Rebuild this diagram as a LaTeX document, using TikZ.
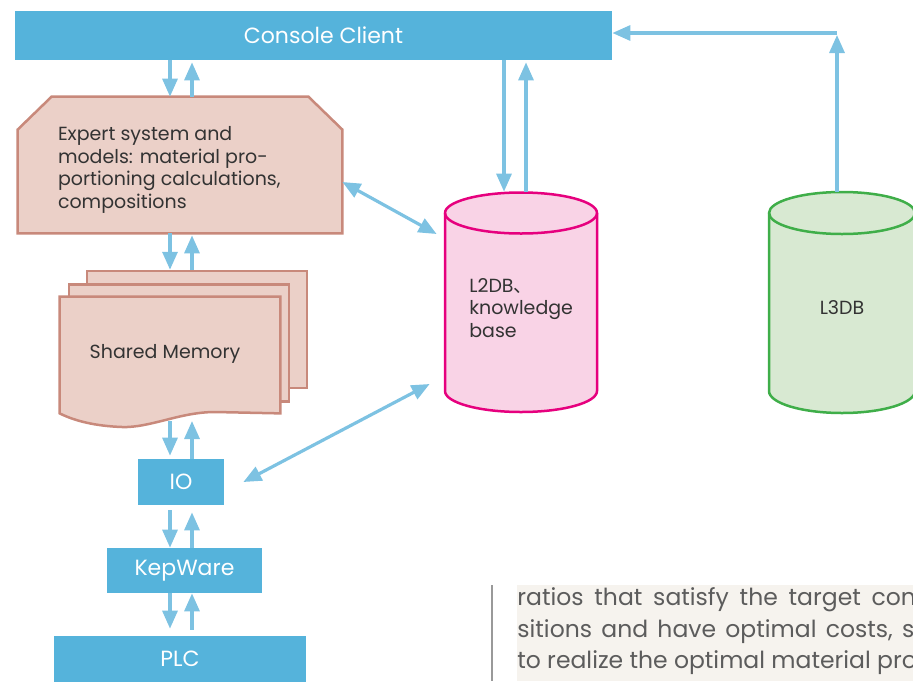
\documentclass[tikz,border=0pt]{standalone}
\usepackage{fontspec}
\setmainfont{Poppins}
\newfontfamily\cjk{Noto Sans CJK SC}
\usetikzlibrary{arrows.meta,positioning,calc}
\definecolor{boxblue}{HTML}{55B3DB}
\definecolor{arrowblue}{HTML}{7DC2E2}
\definecolor{salmonfill}{HTML}{EBD0C8}
\definecolor{salmonline}{HTML}{C8897B}
\definecolor{pinkfill}{HTML}{F9D3E6}
\definecolor{pinkline}{HTML}{E6007E}
\definecolor{greenfill}{HTML}{D8E9D2}
\definecolor{greenline}{HTML}{3FAE49}
\definecolor{darktext}{HTML}{333333}
\definecolor{graytext}{HTML}{5C5C5C}
\definecolor{quotebg}{HTML}{F6F3EE}
\tikzset{every picture/.style={line width=0.75pt}}
\tikzset{
  blockbox/.style={fill=boxblue, text=white, inner sep=0pt, font=\fontsize{22}{26}\selectfont},
  boxtext/.style={text=darktext, inner sep=0pt, font=\fontsize{19}{22.7}\selectfont},
  docline/.style={fill=salmonfill, draw=salmonline, line width=2.5pt},
  docpage/.style={docline, inner sep=0pt, minimum width=220pt, minimum height=117pt},
  hidden/.style={inner sep=0pt},
  flow/.style={draw=arrowblue, line width=3.2pt, -{Triangle[length=18pt,width=15pt]}},
  dflow/.style={flow, {Triangle[length=18pt,width=15pt]}-{Triangle[length=18pt,width=15pt]}},
  quotetext/.style={text=graytext, inner sep=0pt, anchor=base west, font=\fontsize{23.5}{32}\selectfont}
}

\begin{document}
\begin{tikzpicture}[x=1pt,y=-1pt]
    \useasboundingbox (0,0) rectangle (913,681);
    \clip (0,0) rectangle (913,681);

    % Blue blocks
    \node[blockbox, minimum width=597pt, minimum height=49pt] (console) at (313.5,35.5) {\hspace{20pt}Console Client};
    \node[blockbox, minimum width=86pt, minimum height=46pt] (io) at (181,482) {IO};
    \node[blockbox, minimum width=155pt, minimum height=45pt] (kep) at (184.5,570.5) {KepWare};
    \node[blockbox, minimum width=252pt, minimum height=46pt] (plc) at (180,659) {PLC};

    % Expert system box with cut corners
    \node[hidden, minimum width=324pt, minimum height=136pt] (expert) at (180,165) {};
    \draw[docline] (expert.south west) -- ($(expert.north west)+(0,33)$) -- ($(expert.north west)+(34,0)$)
        -- ($(expert.north east)+(-34,0)$) -- ($(expert.north east)+(0,33)$) -- (expert.south east) -- cycle;
    \node[boxtext, align=left, anchor=west] (experttxt) at ([xshift=40pt,yshift=-5pt]expert.west)
        {Expert system and\\models: material pro-\\portioning calculations,\\compositions};

    % Shared memory, stacked pages
    \node[docpage, draw] (shmback) at (197,329.5) {};
    \node[docpage, draw] (shmmid) at (179,343) {};
    \node[hidden, minimum width=220pt, minimum height=116pt] (shm) at (170,355) {};
    \draw[docline] (shm.north west) -- (shm.north east) -- (shm.south east) -- (215,412)
        .. controls (180,412) and (150,428) .. (122,427) .. controls (95,426) and (75,421) .. (shm.south west) -- cycle;
    \node[boxtext] (shmtxt) at (165,354) {Shared Memory};

    % L2DB cylinder
    \node[hidden, minimum width=152pt, minimum height=220pt] (l2db) at (521,302) {};
    \draw[fill=pinkfill, draw=pinkline, line width=2.5pt] (445,213) -- (445,391)
        arc[start angle=180, end angle=0, x radius=76, y radius=21] -- (597,213)
        arc[start angle=0, end angle=-180, x radius=76, y radius=20.5] -- cycle;
    \draw[draw=pinkline, line width=2.5pt] (445,213) arc[start angle=180, end angle=0, x radius=76, y radius=20.5];
    \node[boxtext, align=left, anchor=west] (l2dbtxt) at (469,308) {L2DB{\cjk 、}\\knowledge\\base};

    % L3DB cylinder
    \node[hidden, minimum width=146pt, minimum height=221pt] (l3db) at (842,302.5) {};
    \draw[fill=greenfill, draw=greenline, line width=2.5pt] (769,213) -- (769,391)
        arc[start angle=180, end angle=0, x radius=73, y radius=22] -- (915,213)
        arc[start angle=0, end angle=-180, x radius=73, y radius=21] -- cycle;
    \draw[draw=greenline, line width=2.5pt] (769,213) arc[start angle=180, end angle=0, x radius=73, y radius=21];
    \node[boxtext] (l3dbtxt) at (842,308) {L3DB};

    % Vertical links in the left column
    \coordinate (dn) at (170,0);
    \coordinate (up) at (192,0);
    \coordinate (shmfoot) at (0,421);
    \draw[flow] (console.south -| dn) -- (expert.north -| dn);
    \draw[flow, shorten >=2pt] (expert.north -| up) -- (console.south -| up);
    \draw[flow] (expert.south -| dn) -- (shmback.north -| dn);
    \draw[flow, shorten >=2pt] (shmback.north -| up) -- (expert.south -| up);
    \draw[flow, shorten >=3pt] (shmfoot -| dn) -- (io.north -| dn);
    \draw[flow] (io.north -| up) -- (shmfoot -| up);
    \draw[flow, shorten <=5pt] (io.south -| dn) -- (kep.north -| dn);
    \draw[flow, shorten >=7pt] (kep.north -| up) -- (io.south -| up);
    \draw[flow, shorten >=7pt] (kep.south -| dn) -- (plc.north -| dn);
    \draw[flow, shorten <=6pt] (plc.north -| up) -- (kep.south -| up);

    % Links to the databases
    \coordinate (cdn) at (504,0);
    \coordinate (cup) at (526,0);
    \draw[flow] (console.south -| cdn) -- (l2db.north -| cdn);
    \draw[flow, shorten >=2pt] (l2db.north -| cup) -- (console.south -| cup);
    \coordinate (bend) at (837,33);
    \draw[flow, shorten >=2pt] (l3db.north -| bend) -- (bend);
    \draw[flow] (bend) -- (bend -| console.east);
    \draw[dflow] ([yshift=-17pt]expert.east) -- ([xshift=-8pt,yshift=68pt]l2db.west);
    \draw[dflow] ([xshift=19pt]io.east) -- ([xshift=-15pt,yshift=-82pt]l2db.west);

    % Quoted text below
    \draw[draw=gray!80, line width=1.5pt] (492,585) -- (492,681);
    \fill[quotebg] (517,585) rectangle (913,681);
    \node[quotetext] (txta) at (517,605) {ratios\hspace{4.5pt} that\hspace{4.5pt} satisfy\hspace{4.5pt} the\hspace{4.5pt} target\hspace{4.5pt} con};
    \node[quotetext] (txtb) at (517,637) {sitions\hspace{3pt} and\hspace{3pt} have\hspace{3pt} optimal\hspace{3pt} costs,\hspace{3pt} s};
    \node[quotetext] (txtc) at (517,668) {to realize the optimal material pro};
\end{tikzpicture}
\end{document}
